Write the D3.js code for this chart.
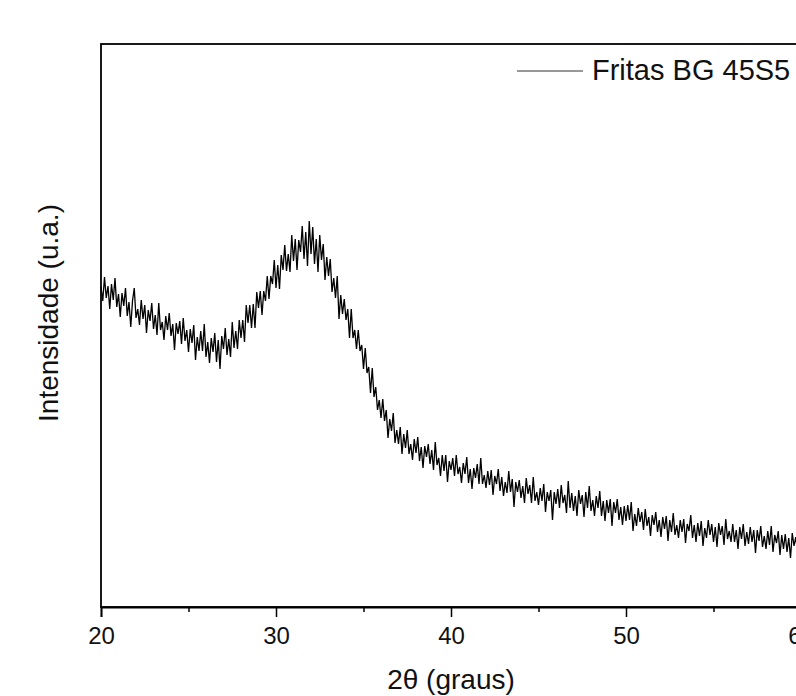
<!DOCTYPE html>
<html><head><meta charset="utf-8">
<script src="https://cdn.jsdelivr.net/npm/d3@7"></script>
<style>
html,body{margin:0;padding:0;background:#fff;}
svg{display:block;font-family:"Liberation Sans",Arial,sans-serif;}
</style></head>
<body>
<svg id="chart" width="796" height="696"></svg>
<script>
const seriesName = "Fritas BG 45S5";
const xTicks = [20, 30, 40, 50, 60];
const xMinorTicks = [25, 35, 45, 55];
const angleStart = 20, angleStep = 0.1;
const intensity = [
320,306,330,309,321,298,323,307,329,300,
313,290,314,301,319,291,305,280,306,319,
289,298,282,307,288,302,274,297,286,304,
278,292,272,304,277,285,267,291,277,294,
271,283,257,284,273,286,263,289,266,277,
255,278,264,282,247,270,256,276,256,283,
250,265,244,269,255,274,245,267,238,271,
258,279,252,268,250,285,259,276,258,287,
269,287,265,302,284,302,279,303,279,315,
299,316,292,316,306,331,308,331,323,347,
319,342,318,352,337,362,336,353,335,372,
346,368,337,367,355,381,348,375,341,386,
353,380,343,368,335,372,347,363,327,350,
331,348,315,329,309,331,288,312,293,308,
287,298,269,298,269,277,258,277,256,262,
238,259,234,240,214,239,210,220,197,207,
189,208,186,197,169,188,176,194,164,177,
163,180,153,173,159,177,153,163,147,168,
154,170,146,160,139,161,150,163,143,157,
137,165,142,149,131,152,136,152,125,146,
137,149,131,152,133,140,124,144,133,150,
124,138,118,139,129,143,123,149,123,132,
119,136,122,137,112,131,123,138,116,130,
111,125,114,136,115,128,100,125,115,127,
109,121,104,129,113,122,104,130,106,115,
102,119,106,123,95,115,106,117,87,115,
103,118,99,122,104,112,94,126,99,114,
96,111,91,117,103,112,90,115,99,121,
96,107,91,111,99,116,91,106,86,107,
94,108,81,105,94,108,87,100,82,101,
86,102,87,105,76,93,81,99,85,95,
77,98,81,90,71,92,82,95,75,87,
70,90,78,91,66,87,75,94,72,82,
69,87,75,88,64,83,76,92,69,82,
65,84,71,86,61,79,69,87,72,83,
65,80,60,84,72,81,62,88,68,76,
65,83,65,77,58,80,68,83,61,75,
63,80,65,77,54,77,66,81,60,71,
58,76,62,81,55,72,64,76,52,72,
58,73,55,69,49,74,61,70,55,68,
53
];

(function () {
const data = intensity.map((v, i) => ({a: angleStart + i * angleStep, v}));

const svg = d3.select("#chart");
const pLeft = 101, pRight = 801, pTop = 44, pBottom = 607;
const x = d3.scaleLinear().domain([20, 60]).range([pLeft, pRight]);
const y = d3.scaleLinear().domain([0, 563]).range([pBottom, pTop]);

// frame
svg.append("rect").attr("x", pLeft).attr("y", pTop)
  .attr("width", pRight - pLeft).attr("height", pBottom - pTop)
  .attr("fill", "none").attr("stroke", "#000").attr("stroke-width", 1.8);

// data line
svg.append("path").datum(data)
  .attr("fill", "none").attr("stroke", "#000").attr("stroke-width", 1.3)
  .attr("stroke-linejoin", "miter")
  .attr("d", d3.line().x(d => x(d.a)).y(d => y(d.v)));

// x axis
const xAxis = d3.axisBottom(x).tickValues(xTicks).tickSize(10).tickPadding(10).tickFormat(d3.format("d"));
const gx = svg.append("g").attr("transform", `translate(0,${pBottom})`).call(xAxis);
gx.select(".domain").attr("stroke-width", 1.8);
gx.selectAll(".tick line").attr("stroke-width", 1.5);
gx.selectAll(".tick text").attr("font-size", 24).attr("font-family", "Liberation Sans, Arial, sans-serif").attr("fill", "#111");
const xMinor = d3.axisBottom(x).tickValues(xMinorTicks).tickSize(5).tickFormat("");
const gm = svg.append("g").attr("transform", `translate(0,${pBottom})`).call(xMinor);
gm.select(".domain").remove();
gm.selectAll(".tick line").attr("stroke-width", 1.5);

// axis titles
svg.append("text").attr("x", 451).attr("y", 689).attr("text-anchor", "middle")
  .attr("font-size", 28).attr("fill", "#111").text("2θ (graus)");
svg.append("text").attr("transform", "translate(58,313) rotate(-90)").attr("text-anchor", "middle")
  .attr("font-size", 28).attr("fill", "#111").text("Intensidade (u.a.)");

// legend
svg.append("line").attr("x1", 517).attr("x2", 583).attr("y1", 71).attr("y2", 71)
  .attr("stroke", "#333").attr("stroke-width", 1);
svg.append("text").attr("x", 592).attr("y", 80).attr("font-size", 29).attr("fill", "#111").text(seriesName);
})();
</script>
</body></html>
